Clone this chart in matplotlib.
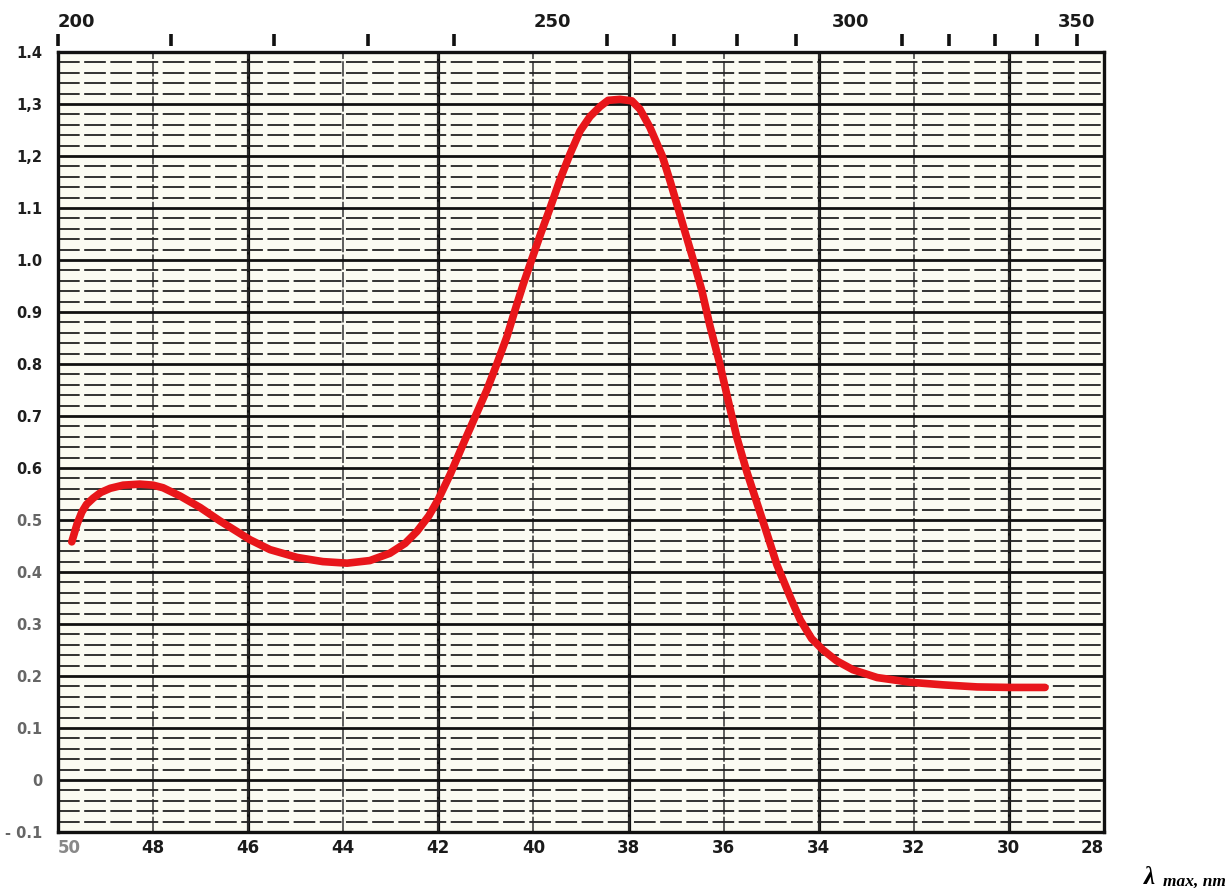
import matplotlib
matplotlib.use('Agg')
import matplotlib.pyplot as plt
from matplotlib.ticker import FixedLocator

# ---- data (wavenumber in kK, absorbance) ----
wavenumber_kK = [49.71, 49.60, 49.50, 49.40, 49.26, 49.10, 48.90, 48.63, 48.28, 48.00,
                 47.79, 47.43, 47.01, 46.59, 46.24, 45.96, 45.54, 44.97, 44.43, 43.92,
                 43.44, 43.02, 42.70, 42.45, 42.20, 42.00, 41.75, 41.45, 41.20, 40.98,
                 40.77, 40.56, 40.40, 40.22, 40.04, 39.85, 39.65, 39.44, 39.23, 39.02,
                 38.81, 38.60, 38.43, 38.18, 37.93, 37.76, 37.55, 37.29, 37.12, 36.96,
                 36.80, 36.67, 36.46, 36.29, 36.08, 35.90, 35.72, 35.51, 35.30, 35.09,
                 34.88, 34.60, 34.39, 34.15, 33.91, 33.62, 33.28, 32.77, 32.08, 31.39,
                 30.67, 29.98, 29.24]
absorbance = [0.458, 0.492, 0.515, 0.530, 0.542, 0.553, 0.561, 0.567, 0.569, 0.567,
              0.562, 0.546, 0.524, 0.498, 0.478, 0.462, 0.443, 0.428, 0.420, 0.417,
              0.422, 0.436, 0.455, 0.478, 0.508, 0.540, 0.588, 0.652, 0.704, 0.750,
              0.800, 0.852, 0.900, 0.952, 1.000, 1.050, 1.100, 1.155, 1.204, 1.248,
              1.276, 1.295, 1.307, 1.309, 1.306, 1.290, 1.255, 1.200, 1.150, 1.100,
              1.050, 1.010, 0.942, 0.874, 0.800, 0.728, 0.658, 0.592, 0.533, 0.474,
              0.414, 0.352, 0.308, 0.272, 0.250, 0.229, 0.212, 0.197, 0.188, 0.183,
              0.179, 0.178, 0.178]

x_ticks_kK = [50, 48, 46, 44, 42, 40, 38, 36, 34, 32, 30, 28]
x_tick_labels = ['50', '48', '46', '44', '42', '40', '38', '36', '34', '32', '30', '28']
x_thick_lines = [46, 42, 38, 34, 30]
y_ticks = [1.4, 1.3, 1.2, 1.1, 1.0, 0.9, 0.8, 0.7, 0.6, 0.5, 0.4, 0.3, 0.2, 0.1, 0.0, -0.1]
y_tick_labels = ['1.4', '1,3', '1,2', '1.1', '1.0', '0.9', '0.8', '0.7', '0.6', '0.5',
                 '0.4', '0.3', '0.2', '0.1', '0', '- 0.1']
y_minor_ticks = [round(-0.1 + 0.02 * i, 2) for i in range(76)]
top_nm_labels = [200, 250, 300, 350]
top_nm_marks = [200, 210, 220, 230, 240, 260, 270, 280, 290, 310, 320, 330, 340, 350]

W, H = 1228, 888
fig = plt.figure(figsize=(W / 100, H / 100), dpi=100)
fig.patch.set_facecolor('white')
ax = fig.add_axes([58 / W, (H - 832) / H, (1104 - 58) / W, (832 - 52) / H])
ax.set_facecolor('#fbfbf2')
ax.set_xlim(50, 28)
ax.set_ylim(-0.1, 1.4)

# grid
ax.set_axisbelow(True)
ax.xaxis.set_major_locator(FixedLocator(x_ticks_kK))
ax.set_xticklabels(x_tick_labels)
ax.yaxis.set_major_locator(FixedLocator(y_ticks))
ax.set_yticklabels(y_tick_labels)
ax.yaxis.set_minor_locator(FixedLocator(y_minor_ticks))
ax.grid(True, axis='y', which='major', color='#111111', lw=2.0)
ax.grid(True, axis='y', which='minor', color='#222222', lw=1.3, linestyle=(0, (12, 2.5)))
ax.grid(True, axis='x', which='major', color='#333333', lw=1.1, linestyle=(0, (10, 1.5)))
for xv in x_thick_lines:
    ax.axvline(xv, color='#111111', lw=2.3, zorder=0.5)

for s in ax.spines.values():
    s.set_linewidth(2.4)
    s.set_color('#111111')

ax.tick_params(axis='x', which='both', length=0, pad=5, labelsize=12,
               labelcolor='#1a1a1a')
ax.tick_params(axis='y', which='both', length=0, pad=11, labelsize=10.5)
for lab in ax.get_xticklabels():
    lab.set_fontweight('bold')
    lab.set_family('DejaVu Sans')
for i, lab in enumerate(ax.get_yticklabels()):
    lab.set_fontweight('bold')
    lab.set_family('DejaVu Sans')
    lab.set_color('#1e1e1e' if i < 9 else '#666666')
xl = ax.get_xticklabels()
xl[0].set_ha('left')
xl[0].set_color('#888888')
xl[-1].set_ha('right')

# curve
ax.plot(wavenumber_kK, absorbance, color='#e8161a', lw=5.5, solid_capstyle='round',
        solid_joinstyle='round', zorder=5)

# top wavelength axis
ax2 = ax.twiny()
ax2.set_xlim(ax.get_xlim())
ax2.xaxis.remove_overlapping_locs = False
ax2.xaxis.set_major_locator(FixedLocator([1e4 / n for n in top_nm_labels]))
ax2.set_xticklabels([str(n) for n in top_nm_labels])
ax2.xaxis.set_minor_locator(FixedLocator([1e4 / n for n in top_nm_marks]))
for s in ax2.spines.values():
    s.set_visible(False)
ax2.spines['top'].set_position(('outward', 4))
ax2.tick_params(axis='x', which='major', length=0, pad=11, labelsize=13)
ax2.tick_params(axis='x', which='minor', length=9, width=2.6, direction='out',
                color='#111111')
tl = ax2.get_xticklabels()
for lab in tl:
    lab.set_fontweight('bold')
    lab.set_family('DejaVu Sans')
    lab.set_color('#1a1a1a')
tl[0].set_ha('left')
tl[1].set_ha('left')

# axis caption
fig.text(1144 / W, 1 - 884 / H, 'λ', fontsize=18, family='Liberation Serif',
         fontweight='bold', fontstyle='italic', va='baseline', ha='left')
fig.text(1163 / W, 1 - 886 / H, 'max, nm', fontsize=12.5, family='Liberation Serif',
         fontweight='bold', fontstyle='italic', va='baseline', ha='left')

fig.savefig('out.png', dpi=100, facecolor=fig.get_facecolor())
